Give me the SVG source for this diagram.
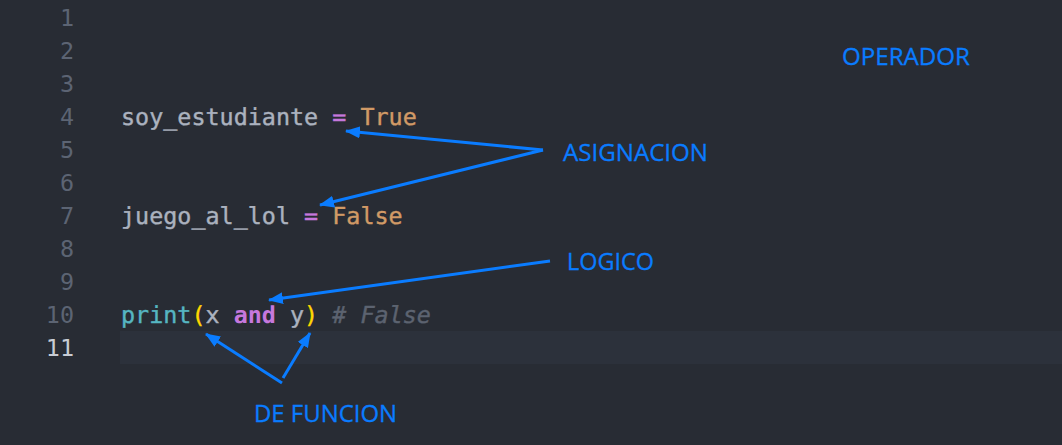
<svg xmlns="http://www.w3.org/2000/svg" width="1062" height="445" viewBox="0 0 1062 445">
<style>
.ln{font-family:"DejaVu Sans Mono","Liberation Mono",monospace;font-size:23.4px;fill:#5c6473;text-anchor:end}
.cur{fill:#c8ccd4}
.code{font-family:"DejaVu Sans Mono","Liberation Mono",monospace;font-size:23.4px;fill:#abb2bf;stroke:#abb2bf;stroke-width:0.4px;white-space:pre;text-rendering:geometricPrecision}
.op{fill:#c678dd;stroke:#c678dd}
.kw{fill:#c678dd;stroke:#c678dd;font-weight:bold;stroke-width:0}
.bool{fill:#d19a66;stroke:#d19a66}
.fn{fill:#56b6c2;stroke:#56b6c2}
.br{fill:#ffd700;stroke:#ffd700}
.cm{fill:#5c6370;stroke:#5c6370;font-style:italic}
.lbl{font-family:"Open Sans","Noto Sans","Liberation Sans",sans-serif;font-size:24px;fill:#0a7cff;stroke:#0a7cff;stroke-width:0.3px}
.arr{stroke:#0a7cff;stroke-width:3;fill:none;marker-end:url(#ah)}
</style>
<defs>
<marker id="ah" markerUnits="userSpaceOnUse" markerWidth="16" markerHeight="12" refX="14" refY="6" orient="auto">
<path d="M0,0 L15,6 L0,12 Z" fill="#0a7cff"/>
</marker>
</defs>
<rect x="0" y="0" width="1062" height="445" fill="#282c34"/>
<rect x="120" y="331" width="942" height="33" fill="#2c313b"/>
<g id="gutter">
<text class="ln" x="74" y="26">1</text>
<text class="ln" x="74" y="59">2</text>
<text class="ln" x="74" y="92">3</text>
<text class="ln" x="74" y="125">4</text>
<text class="ln" x="74" y="158">5</text>
<text class="ln" x="74" y="191">6</text>
<text class="ln" x="74" y="224">7</text>
<text class="ln" x="74" y="257">8</text>
<text class="ln" x="74" y="290">9</text>
<text class="ln" x="74" y="323">10</text>
<text class="ln cur" x="74" y="356">11</text>
</g>
<g id="code">
<text class="code" x="121" y="125">soy_estudiante <tspan class="op">=</tspan> <tspan class="bool">True</tspan></text>
<text class="code" x="121" y="224">juego_al_lol <tspan class="op">=</tspan> <tspan class="bool">False</tspan></text>
<text class="code" x="121" y="323"><tspan class="fn">print</tspan><tspan class="br">(</tspan>x <tspan class="kw">and</tspan> y<tspan class="br">)</tspan> <tspan class="cm"># False</tspan></text>
</g>
<g id="n-operador"><text class="lbl" x="842" y="65" textLength="128" lengthAdjust="spacingAndGlyphs">OPERADOR</text></g>
<g id="n-asignacion"><text class="lbl" x="563" y="161" textLength="145" lengthAdjust="spacingAndGlyphs">ASIGNACION</text></g>
<g id="n-logico"><text class="lbl" x="567" y="270" textLength="87" lengthAdjust="spacingAndGlyphs">LOGICO</text></g>
<g id="n-defuncion"><text class="lbl" x="254" y="422" textLength="143" lengthAdjust="spacingAndGlyphs">DE FUNCION</text></g>
<g id="connectors">
<line class="arr" x1="543" y1="150" x2="346" y2="131"/>
<line class="arr" x1="543" y1="150" x2="320" y2="205"/>
<line class="arr" x1="550" y1="261" x2="269" y2="300"/>
<line class="arr" x1="282" y1="383" x2="206" y2="334"/>
<line class="arr" x1="283" y1="378" x2="310" y2="333"/>
</g>
</svg>
